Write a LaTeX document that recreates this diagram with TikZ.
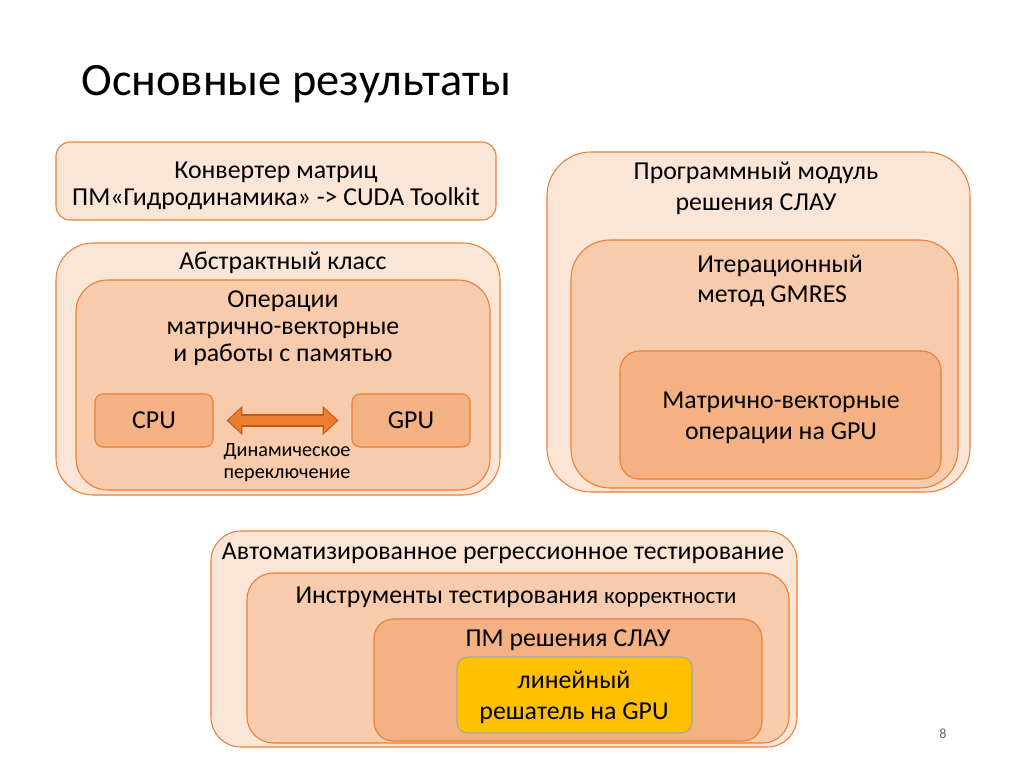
\documentclass[tikz,border=0pt]{standalone}
\usepackage{fontspec}
\setmainfont{Carlito}
\usepackage{tikz}
\usetikzlibrary{arrows.meta, positioning, fit}
\usepackage{xcolor}
\definecolor{litepeach}{HTML}{FBE5D6}
\definecolor{midpeach}{HTML}{F8CBAD}
\definecolor{darkpeach}{HTML}{F4B183}
\definecolor{myorange}{HTML}{ED7D31}
\definecolor{darkorange}{HTML}{C55A11}
\definecolor{mygold}{HTML}{FFC000}
\definecolor{mygray}{HTML}{A5A5A5}

\tikzset{
  panel/.style={draw=myorange, line width=0.6pt, inner sep=0pt},
  lite/.style={panel, fill=litepeach},
  mid/.style={panel, fill=midpeach},
  dark/.style={panel, fill=darkpeach},
  txt/.style={align=center, inner sep=0pt, font=\fontsize{14.7}{15.4}\selectfont},
  widetxt/.style={align=center, inner sep=0pt, font=\fontsize{14.7}{17.5}\selectfont},
  smalltxt/.style={align=center, inner sep=0pt, font=\fontsize{11.5}{12.5}\selectfont},
}

\begin{document}
\begin{tikzpicture}[x=0.02cm, y=-0.02cm]
        \useasboundingbox (0,0) rectangle (1024,767);
        \fill[white] (0,0) rectangle (1024,767);
        % Titel
        \node[anchor=west, inner sep=0pt, font=\fontsize{26.4}{30}\selectfont] (title) at (81,84) {Основные результаты};

        % linke Spalte
        \node[lite, rounded corners=8pt, fit={(56,142)(496,220)}] (conv) {};
        \node[txt] (convtxt) at (276,186) {Конвертер матриц\\ПМ«Гидродинамика» -> CUDA Toolkit};

        \node[lite, rounded corners=21pt, fit={(56,243)(500,495)}] (absclass) {};
        \node[txt] (abstxt) at (283,263) {Абстрактный класс};
        \node[mid, rounded corners=18pt, fit={(76,280)(490,490)}] (ops) {};
        \node[txt] (opstxt) at (283,328) {Операции\\матрично-векторные\\и работы с памятью};
        \node[dark, rounded corners=4.5pt, fit={(95,394)(213,447)}] (cpu) {};
        \node[dark, rounded corners=4.5pt, fit={(352,394)(470,447)}] (gpu) {};
        \node[txt] (cputxt) at (cpu) {CPU};
        \node[txt] (gputxt) at (gpu) {GPU};
        % Doppelpfeil
        \draw[darkorange, line width=7.5pt, shorten <=0.26cm, shorten >=0.26cm,
              {Triangle[length=9pt, width=16pt]}-{Triangle[length=9pt, width=16pt]}] (cpu.east) -- (gpu.west);
        \draw[myorange, line width=5.5pt, shorten <=0.3cm, shorten >=0.3cm,
              {Triangle[length=7pt, width=13pt]}-{Triangle[length=7pt, width=13pt]}] (cpu.east) -- (gpu.west);
        \node[smalltxt] (switchtxt) at (287,463) {Динамическое\\переключение};

        % rechte Spalte
        \node[lite, rounded corners=25pt, fit={(547,152)(970,492)}] (solver) {};
        \node[widetxt] (solvertxt) at (756,188) {Программный модуль\\решения СЛАУ};
        \node[mid, rounded corners=22pt, fit={(571,240)(958,488)}] (gmres) {};
        \node[widetxt, align=left, anchor=west] (gmrestxt) at (697,281) {Итерационный\\метод GMRES};
        \node[dark, rounded corners=11pt, fit={(620,351)(941,479)}] (matvec) {};
        \node[widetxt] (matvectxt) at (781,418) {Матрично-векторные\\операции на GPU};

        % unten
        \node[lite, rounded corners=17pt, fit={(211,531)(797,747)}] (autotest) {};
        \node[txt] (autotxt) at (503,553) {Автоматизированное регрессионное тестирование};
        \node[mid, rounded corners=15pt, fit={(247,573)(789,743)}] (tools) {};
        \node[txt] (toolstxt) at (516,597) {Инструменты тестирования {\fontsize{13}{14}\selectfont корректности}};
        \node[dark, rounded corners=11pt, fit={(374,619)(762,741)}] (pmslau) {};
        \node[txt] (pmtxt) at (568,640) {ПМ решения СЛАУ};
        \node[panel, draw=mygray, fill=mygold, rounded corners=6pt, fit={(457,657)(692,733)}] (linsolver) {};
        \node[widetxt] (lintxt) at (574,697) {линейный\\решатель на GPU};

        % Seitennummer
        \node[inner sep=0pt, font=\fontsize{8}{9}\selectfont, gray!80!black] (pagenum) at (943,734) {8};
      \end{tikzpicture}
\end{document}
